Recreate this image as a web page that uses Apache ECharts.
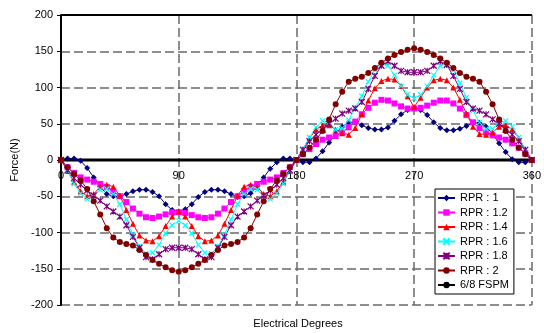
<!DOCTYPE html>
<html>
<head>
<meta charset="utf-8">
<script src="https://cdn.jsdelivr.net/npm/echarts@6/dist/echarts.min.js"></script>
<style>
  html, body { margin: 0; padding: 0; background: #fff; }
  #chart { width: 544px; height: 333px; }
</style>
</head>
<body>
<div id="chart"></div>
<script>
// Electrical angle (degrees), sampled every 5 degrees
const angles = [0,5,10,15,20,25,30,35,40,45,50,55,60,65,70,75,80,85,90,
  95,100,105,110,115,120,125,130,135,140,145,150,155,160,165,170,175,180,
  185,190,195,200,205,210,215,220,225,230,235,240,245,250,255,260,265,270,
  275,280,285,290,295,300,305,310,315,320,325,330,335,340,345,350,355,360];

// Force (N) for each rotor pole ratio
const rpr1 = [0,2,2,-1,-11,-24,-37,-47,-50,-50,-47,-43,-41,-41,-44,-50,-61,-69,-71,
  -68,-61,-51,-44,-41,-41,-43,-47,-51,-50,-46,-36,-24,-12,-3,2,2,0,
  -3,-3,2,12,24,36,46,52,52,48,44,42,42,45,54,63,69,72,
  69,62,52,44,41,41,43,47,51,51,46,36,23,11,1,-3,-3,0];
const rpr12 = [0,-10,-18,-24,-27,-30,-33,-37,-43,-50,-58,-67,-74,-79,-80,-78,-75,-72,-72,
  -73,-76,-79,-80,-79,-74,-67,-58,-50,-43,-37,-33,-30,-27,-24,-18,-10,0,
  8,15,22,28,31,33,38,45,53,63,72,79,83,82,78,74,71,71,
  72,75,79,82,82,78,71,62,52,44,38,34,31,28,23,17,9,0];
const rpr14 = [0,-15,-30,-43,-50,-47,-37,-34,-37,-49,-69,-88,-104,-111,-112,-105,-91,-78,-71,
  -78,-91,-105,-112,-111,-104,-88,-69,-49,-37,-34,-37,-47,-50,-43,-30,-15,0,
  15,30,42,48,48,42,37,35,44,63,82,99,109,112,111,102,88,73,
  86,100,110,112,110,100,83,64,46,36,35,38,46,48,42,30,15,0];
const rpr16 = [0,-15,-33,-46,-54,-50,-41,-40,-47,-61,-82,-103,-119,-129,-128,-117,-101,-90,-84,
  -90,-101,-117,-128,-129,-119,-103,-82,-61,-47,-40,-41,-50,-54,-46,-33,-15,0,
  15,31,45,54,52,42,44,55,72,88,108,124,132,130,117,102,90,85,
  90,102,117,130,132,124,106,86,68,52,43,43,52,54,46,31,15,0];
const rpr18 = [0,-14,-25,-34,-42,-49,-56,-64,-71,-78,-90,-106,-121,-134,-137,-130,-123,-121,-121,
  -121,-123,-130,-137,-134,-121,-106,-90,-78,-71,-64,-56,-49,-42,-34,-25,-14,0,
  14,26,35,42,50,57,64,68,71,80,98,116,130,136,130,123,121,121,
  121,123,130,136,131,116,98,80,71,68,63,56,50,42,35,26,14,0];
const rpr2 = [0,-10,-19,-28,-40,-57,-75,-94,-107,-113,-116,-118,-124,-131,-138,-143,-148,-152,-154,
  -152,-148,-143,-138,-131,-124,-118,-116,-113,-107,-94,-75,-57,-40,-28,-19,-10,0,
  8,17,28,40,56,77,94,108,112,115,120,127,134,140,145,149,152,154,
  152,149,145,140,134,127,120,115,112,108,94,77,56,40,28,17,8,0];

// Reference machine (6/8 FSPM) trace
const fspmAngles = [0, 360];
const fspmValues = [0, 0];

const xTicks = [0, 90, 180, 270, 360];
const yTicks = [-200, -150, -100, -50, 0, 50, 100, 150, 200];

const FONT = 'Liberation Sans, Arial, sans-serif';
const pairs = (xs, ys) => xs.map((x, i) => [x, ys[i]]);

const crossPath = 'path://M0,0L10,10M10,0L0,10';
const starPath = 'path://M0,0L10,10M10,0L0,10M5,0L5,10';

function curve(name, values, color, symbol, size, strokeSymbol) {
  return {
    name: name,
    type: 'line',
    data: pairs(angles, values),
    symbol: symbol,
    symbolSize: size,
    showSymbol: true,
    lineStyle: { color: color, width: 1 },
    itemStyle: strokeSymbol
      ? { color: color, borderColor: color, borderWidth: 1.2 }
      : { color: color, borderWidth: 0 },
    emphasis: { disabled: true }
  };
}

const GRID = { left: 61, right: 8, top: 15, bottom: 28 };
const PLOT_H = 333 - GRID.top - GRID.bottom;
const yMin = yTicks[0], yMax = yTicks[yTicks.length - 1];
// the angle axis runs through Force = 0, so lift it from the grid's bottom edge
const xAxisLift = PLOT_H * (0 - yMin) / (yMax - yMin);

const chart = echarts.init(document.getElementById('chart'), null, { renderer: 'canvas' });
const dash = { type: [9, 4], color: '#6a6a6a', width: 1.5 };

chart.setOption({
  animation: false,
  textStyle: { fontFamily: FONT },
  grid: Object.assign({ containLabel: false }, GRID),
  xAxis: {
    type: 'value', min: xTicks[0], max: xTicks[xTicks.length - 1], interval: 90,
    position: 'bottom', offset: -xAxisLift,
    axisLine: { onZero: false, lineStyle: { color: '#000', width: 2 } },
    axisTick: { show: false },
    axisLabel: { margin: 10, fontSize: 11, color: '#000', fontFamily: FONT },
    splitLine: { show: true, lineStyle: dash }
  },
  yAxis: {
    type: 'value', min: yMin, max: yMax, interval: 50,
    name: 'Force(N)', nameLocation: 'middle', nameGap: 40,
    nameTextStyle: { fontSize: 11, color: '#000', fontFamily: FONT },
    axisLine: { show: true, onZero: false, lineStyle: { color: '#000', width: 2 } },
    axisTick: { show: true, length: 4, lineStyle: { color: '#000', width: 1 } },
    axisLabel: { margin: 8, fontSize: 11, color: '#000', fontFamily: FONT },
    splitLine: { show: true, lineStyle: dash }
  },
  legend: {
    orient: 'vertical', left: 435, top: 189,
    padding: [3, 5, 3, 2], itemGap: 2.5,
    itemWidth: 17, itemHeight: 8,
    backgroundColor: '#fff', borderColor: '#000', borderWidth: 1,
    textStyle: { fontSize: 11, color: '#000', lineHeight: 12, fontFamily: FONT },
    data: ['RPR : 1', 'RPR : 1.2', 'RPR : 1.4', 'RPR : 1.6', 'RPR : 1.8', 'RPR : 2', '6/8 FSPM']
  },
  graphic: [{
    type: 'text', x: 298, y: 324,
    style: { text: 'Electrical Degrees', fill: '#000', font: '11px ' + FONT,
      textAlign: 'center', textVerticalAlign: 'middle' }
  }],
  series: [
    curve('RPR : 1', rpr1, '#000080', 'diamond', 6, false),
    curve('RPR : 1.2', rpr12, '#FF00FF', 'rect', 6, false),
    curve('RPR : 1.4', rpr14, '#FF0000', 'triangle', 6, false),
    curve('RPR : 1.6', rpr16, '#00FFFF', crossPath, 5, true),
    curve('RPR : 1.8', rpr18, '#800080', starPath, 6, true),
    curve('RPR : 2', rpr2, '#800000', 'circle', 6, false),
    {
      name: '6/8 FSPM', type: 'line', data: pairs(fspmAngles, fspmValues),
      symbol: 'none', lineStyle: { color: '#000', width: 3 }, itemStyle: { color: '#000' },
      emphasis: { disabled: true },
      // solid frame edge along the top of the plot
      markLine: {
        silent: true, symbol: 'none', label: { show: false },
        lineStyle: { color: '#000', width: 2, type: 'solid' },
        data: [{ yAxis: yMax }]
      }
    }
  ]
});
</script>
</body>
</html>
